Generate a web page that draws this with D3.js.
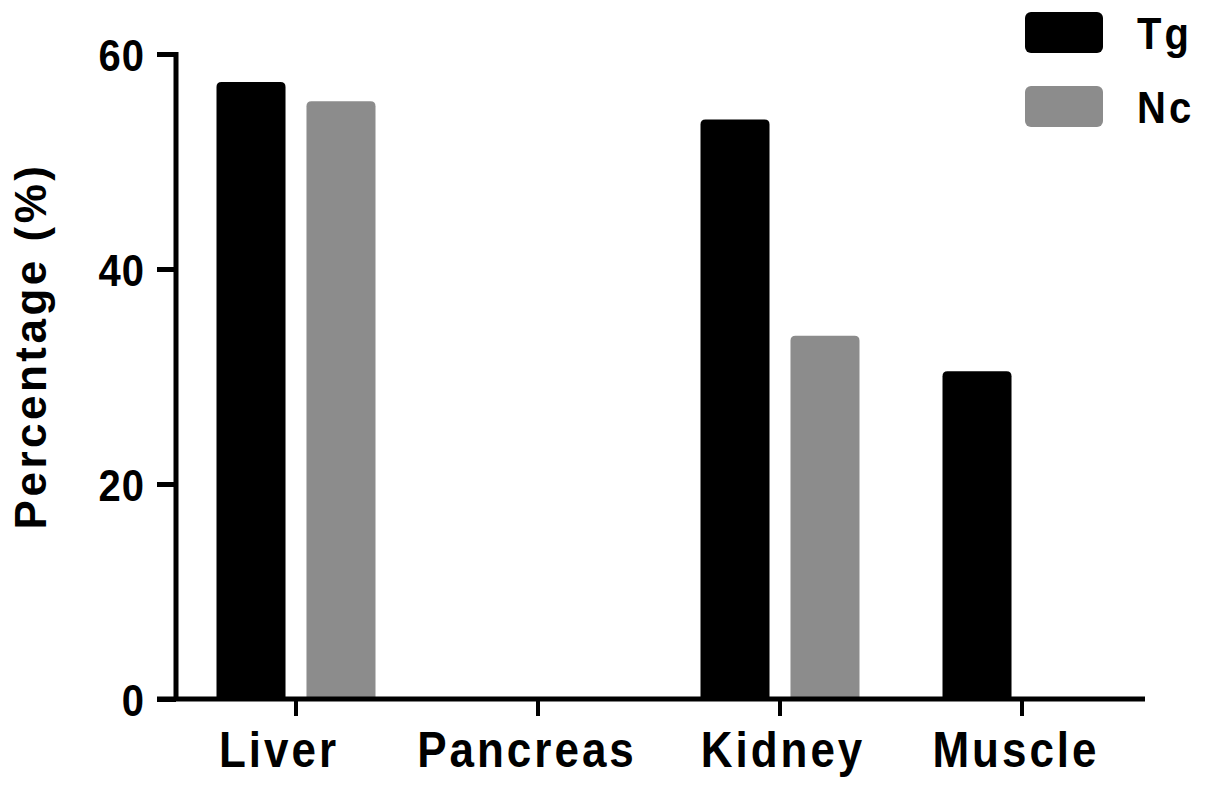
<!DOCTYPE html>
<html>
<head>
<meta charset="utf-8">
<script src="https://cdn.jsdelivr.net/npm/d3@7"></script>
<style>
  html, body { margin: 0; padding: 0; background: #fff; }
  svg { display: block; }
  text { font-family: "Liberation Sans", Arial, Helvetica, sans-serif; font-weight: bold; fill: #000; }
</style>
</head>
<body>
<svg id="chart" width="1205" height="788"></svg>
<script>
const categories = ["Liver", "Pancreas", "Kidney", "Muscle"];
const seriesNames = ["Tg", "Nc"];
const tgValues = [57.4, 0, 53.9, 30.5];
const ncValues = [55.6, 0, 33.8, 0];
const yTicks = [0, 20, 40, 60];
const seriesColors = ["#000000", "#8c8c8c"];
const labelShift = {"Liver": -17, "Pancreas": -11, "Kidney": 3, "Muscle": -6};

const svg = d3.select("#chart");

const x = d3.scaleBand().domain(categories).range([175, 1143]).paddingInner(0).paddingOuter(0);
const xSub = d3.scaleBand().domain(seriesNames).range([-79.5, 79.5]).paddingInner(0.233).paddingOuter(0);
const y = d3.scaleLinear().domain([0, 60]).range([699, 54]);

const data = [];
categories.forEach((c, i) => {
  data.push({cat: c, s: "Tg", v: tgValues[i], color: seriesColors[0]});
  data.push({cat: c, s: "Nc", v: ncValues[i], color: seriesColors[1]});
});

function barPath(x0, x1, yTop, yBot, r) {
  r = Math.min(r, (yBot - yTop) / 2, (x1 - x0) / 2);
  return `M${x0},${yBot} L${x0},${yTop + r} Q${x0},${yTop} ${x0 + r},${yTop} L${x1 - r},${yTop} Q${x1},${yTop} ${x1},${yTop + r} L${x1},${yBot} Z`;
}

svg.append("g").selectAll("path")
  .data(data.filter(d => d.v > 0))
  .join("path")
  .attr("d", d => {
    const cx = x(d.cat) + x.bandwidth() / 2;
    const x0 = cx + xSub(d.s);
    return barPath(x0, x0 + xSub.bandwidth(), y(d.v), y(0), 5);
  })
  .attr("fill", d => d.color);

// Y axis
const yAxis = d3.axisLeft(y).tickValues(yTicks).tickSize(19).tickPadding(12).tickFormat(d3.format("d"));
const gy = svg.append("g").attr("transform", "translate(176,0)").call(yAxis);
gy.select(".domain").remove();
gy.append("line").attr("x1", 0).attr("x2", 0).attr("y1", y(60) - 2).attr("y2", y(0) + 2)
  .attr("stroke", "#000").attr("stroke-width", 5);
gy.selectAll(".tick line").attr("stroke", "#000").attr("stroke-width", 5);
gy.selectAll(".tick text").style("font-size", "40px").attr("letter-spacing", "1px")
  .attr("y", 0).attr("dy", "0.36em").attr("transform", "scale(1,1.12)");

// X axis
const xAxis = d3.axisBottom(x).tickSize(17).tickPadding(16);
const gx = svg.append("g").attr("transform", "translate(0,699)").call(xAxis);
gx.select(".domain").remove();
gx.append("line").attr("x1", 157).attr("x2", 1145).attr("y1", 0).attr("y2", 0)
  .attr("stroke", "#000").attr("stroke-width", 5);
gx.selectAll(".tick line").attr("stroke", "#000").attr("stroke-width", 4);
gx.selectAll(".tick text").style("font-size", "44px").attr("letter-spacing", "3px")
  .attr("y", 0).attr("dy", "0.71em")
  .attr("transform", d => `translate(${labelShift[d]},32) scale(1,1.15)`);

// Y title
svg.append("text")
  .attr("transform", "translate(46,346) rotate(-90)")
  .attr("text-anchor", "middle")
  .style("font-size", "44px")
  .attr("letter-spacing", "3.5px")
  .text("Percentage (%)");

// Legend
const legend = svg.append("g");
seriesNames.forEach((s, i) => {
  const yy = 12 + i * 74;
  legend.append("rect").attr("x", 1025).attr("y", yy).attr("width", 78).attr("height", 41)
    .attr("rx", 6).attr("fill", seriesColors[i]);
  legend.append("text").attr("transform", `translate(1137,${yy + 37}) scale(1,1.1)`)
    .style("font-size", "40px").attr("letter-spacing", "3px").text(s);
});
</script>
</body>
</html>
